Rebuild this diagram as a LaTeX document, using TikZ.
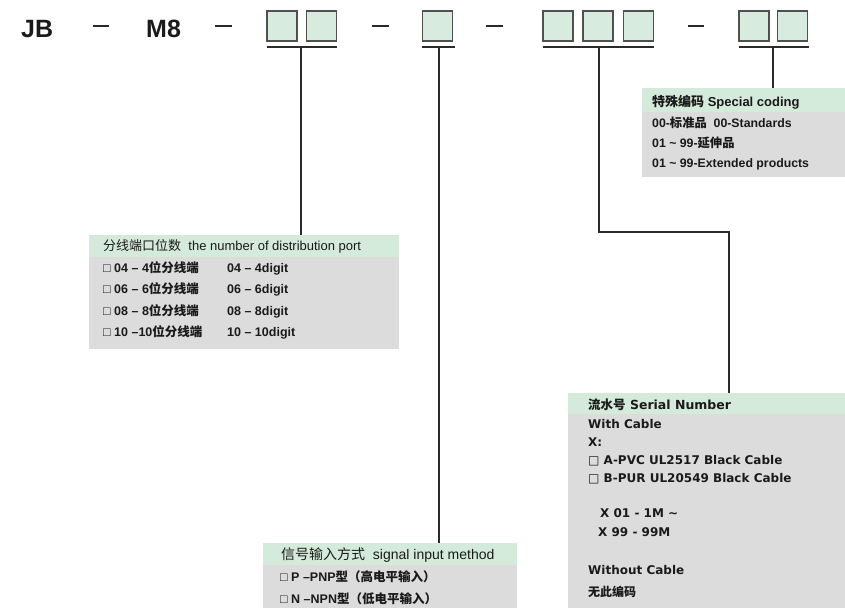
\documentclass[tikz,border=0pt]{standalone}
\usepackage{fontspec}
\setmainfont{Liberation Sans}
\newfontfamily\cjk{Noto Sans CJK SC}
\newfontfamily\dvsans{DejaVu Sans}
\newcommand\zh[1]{{\cjk #1}}
\newcommand\tld{\char"007E\relax}
\definecolor{txt}{HTML}{1A1A1A}
\definecolor{boxfill}{HTML}{D7EBDF}
\definecolor{boxline}{HTML}{505050}
\definecolor{hdrgreen}{HTML}{D4EADB}
\definecolor{bodygray}{HTML}{DCDCDC}
\definecolor{linec}{HTML}{2A2A2A}
\begin{document}
\begin{tikzpicture}[x=1pt,y=-1pt,
  cbox/.style={draw=boxline, line width=1.2pt, fill=boxfill, minimum width=30pt, minimum height=30pt, inner sep=0pt},
  uline/.style={draw=linec, line width=2pt},
  dashmark/.style={draw=linec, line width=1.6pt},
  conn/.style={draw=linec, line width=1.3pt},
  hdr/.style={fill=hdrgreen, anchor=north west, inner sep=0pt, minimum height=#1},
  body/.style={fill=bodygray, anchor=north west, inner sep=0pt, minimum height=#1},
  t/.style={anchor=base west, inner sep=0pt, text=txt},
  big/.style={t, font=\fontsize{25}{25}\selectfont\bfseries},
  spc/.style={t, font=\fontsize{12.3}{14}\selectfont\bfseries},
  prt/.style={t, font=\fontsize{12.5}{14}\selectfont\bfseries},
  ser/.style={t, font=\dvsans\fontsize{12}{15}\selectfont\bfseries},
]
\fill[white] (0,0) rectangle (845,608);
\useasboundingbox (0,0) rectangle (845,608);

% code line
\node[big] (jb) at (21,37) {JB};
\node[big] (m8) at (146,37) {M8};
\draw[dashmark] (93,26) -- (109,26);
\draw[dashmark] (215,26) -- (232,26);
\draw[dashmark] (372,26) -- (389,26);
\draw[dashmark] (486,26) -- (503,26);
\draw[dashmark] (688,26) -- (704,26);

\node[cbox] (b11) at (282,26) {};
\node[cbox] (b12) at (321.5,26) {};
\node[cbox] (b21) at (437.5,26) {};
\node[cbox] (b31) at (558,26) {};
\node[cbox] (b32) at (598,26) {};
\node[cbox] (b33) at (638.5,26) {};
\node[cbox] (b41) at (754,26) {};
\node[cbox] (b42) at (792.5,26) {};

\draw[uline] (267,47) -- (337,47);
\draw[uline] (422,47) -- (455,47);
\draw[uline] (543,47) -- (654,47);
\draw[uline] (739,47) -- (809,47);
\coordinate (u1) at (301,47);
\coordinate (u2) at (439,47);
\coordinate (u3) at (599,47);
\coordinate (u4) at (773,47);

% special coding panel
\node[hdr=24pt, minimum width=203pt] (sph) at (642,88) {};
\node[body=65pt, minimum width=203pt] (spb) at (642,112) {};
\node[t, font=\fontsize{13}{15}\selectfont\bfseries] (spt) at (652,106.5) {\zh{特殊编码} Special coding};
\node[spc] (sp1) at (652,127.5) {00-\zh{标准品}\ \ 00-Standards};
\node[spc] (sp2) at (652,147.5) {01 \tld\ 99-\zh{延伸品}};
\node[spc] (sp3) at (652,167.5) {01 \tld\ 99-Extended products};

% distribution port panel
\node[hdr=22pt, minimum width=310pt] (poh) at (89,235) {};
\node[body=92pt, minimum width=310pt] (pob) at (89,257) {};
\node[t, font=\fontsize{13}{15}\selectfont] (pot) at (103,250.5) {\zh{分线端口位数}\ \ the number of distribution port};
\node[prt] (po1) at (103,272.5) {□ 04 – 4\zh{位分线端}};
\node[prt] (po2) at (103,293.5) {□ 06 – 6\zh{位分线端}};
\node[prt] (po3) at (103,315.5) {□ 08 – 8\zh{位分线端}};
\node[prt] (po4) at (103,336.5) {□ 10 –10\zh{位分线端}};
\node[prt] (pe1) at (227,272.5) {04 – 4digit};
\node[prt] (pe2) at (227,293.5) {06 – 6digit};
\node[prt] (pe3) at (227,315.5) {08 – 8digit};
\node[prt] (pe4) at (227,336.5) {10 – 10digit};

% serial number panel
\node[hdr=21pt, minimum width=277pt] (seh) at (568,393) {};
\node[body=194pt, minimum width=277pt] (seb) at (568,414) {};
\node[t, font=\dvsans\fontsize{12.5}{15}\selectfont\bfseries] (set) at (588,409.5) {\zh{流水号} Serial Number};
\node[ser] (se1) at (588,428.5) {With Cable};
\node[ser] (se2) at (588,446.5) {X:};
\node[ser] (se3) at (588,464.5) {□ A-PVC UL2517 Black Cable};
\node[ser] (se4) at (588,482.5) {□ B-PUR UL20549 Black Cable};
\node[ser] (se5) at (600,517.5) {X 01 - 1M \tld};
\node[ser] (se6) at (598,536.5) {X 99 - 99M};
\node[ser] (se7) at (588,574.5) {Without Cable};
\node[ser] (se8) at (588,596.5) {\zh{无此编码}};

% signal input panel
\node[hdr=22pt, minimum width=254pt] (sih) at (263,543) {};
\node[body=43pt, minimum width=254pt] (sib) at (263,565) {};
\node[t, font=\fontsize{14}{16}\selectfont] (sit) at (281,559) {\zh{信号输入方式}\ \ signal input method};
\node[prt] (si1) at (280,581.5) {□ P –PNP\zh{型（高电平输入）}};
\node[prt] (si2) at (280,603.5) {□ N –NPN\zh{型（低电平输入）}};

% connectors
\draw[conn] (u1) -- (u1 |- poh.north);
\draw[conn] (u2) -- (u2 |- sih.north);
\coordinate (bend) at (729,232);
\draw[conn] (u3) |- (bend) -- (bend |- seh.north);
\draw[conn] (u4) -- (u4 |- sph.north);
\end{tikzpicture}
\end{document}
